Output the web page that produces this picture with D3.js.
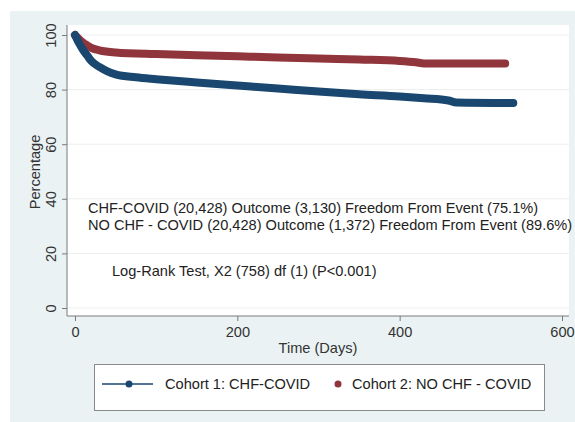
<!DOCTYPE html>
<html>
<head>
<meta charset="utf-8">
<script src="https://cdn.jsdelivr.net/npm/d3@7"></script>
<style>
  body { margin: 0; background: #fff; }
  svg { display: block; font-family: "Liberation Sans", Arial, sans-serif; }
</style>
</head>
<body>
<div id="chart"></div>
<script>
// Kaplan-Meier style curves (days, percent free from event)
const cohort1Days = [0, 5, 10, 15, 20, 30, 40, 50, 75, 100, 150, 200, 250, 300, 350, 400, 430, 460, 470, 540];
const cohort1Pct  = [100, 97, 94.5, 92.5, 90.5, 88.3, 86.7, 85.6, 84.5, 83.8, 82.6, 81.5, 80.4, 79.3, 78.3, 77.5, 76.8, 76.0, 75.3, 75.1];
const cohort2Days = [0, 5, 10, 15, 20, 30, 50, 100, 150, 200, 250, 300, 350, 400, 420, 430, 530];
const cohort2Pct  = [100, 98.5, 97.2, 96.2, 95.3, 94.4, 93.6, 93.0, 92.6, 92.2, 91.8, 91.4, 91.0, 90.5, 90.0, 89.6, 89.6];

const xTicks = [0, 200, 400, 600];
const yTicks = [0, 20, 40, 60, 80, 100];

const annotationLines = [
  "CHF-COVID (20,428) Outcome (3,130) Freedom From Event (75.1%)",
  "NO CHF - COVID (20,428) Outcome (1,372) Freedom From Event (89.6%)"
];
const testLabel = "Log-Rank Test, X2 (758) df (1) (P<0.001)";
const legendLabels = ["Cohort 1: CHF-COVID", "Cohort 2: NO CHF - COVID"];

const navy = "#1a476f", maroon = "#90353b";
const W = 575, H = 422;
const fs = "14.6px";

const svg = d3.select("#chart").append("svg")
  .attr("width", W)
  .attr("height", H);

// graph region background
svg.append("rect")
  .attr("x", 10).attr("y", 11)
  .attr("width", W - 10).attr("height", H - 11)
  .attr("fill", "#eaf2f3");

// plot region
const plot = { left: 67, top: 25, right: 569, bottom: 316 };
svg.append("rect")
  .attr("x", plot.left).attr("y", plot.top)
  .attr("width", plot.right - plot.left).attr("height", plot.bottom - plot.top)
  .attr("fill", "#fff");

const x = d3.scaleLinear().domain([0, 600]).range([75, 562]);
const y = d3.scaleLinear().domain([0, 100]).range([308, 35]);

// grid lines
svg.append("g")
  .selectAll("line")
  .data(yTicks)
  .enter().append("line")
  .attr("x1", plot.left).attr("x2", plot.right)
  .attr("y1", d => y(d)).attr("y2", d => y(d))
  .attr("stroke", "#eceeee")
  .attr("stroke-width", 1);

// y axis
const yAxis = svg.append("g")
  .attr("transform", `translate(${plot.left},0)`)
  .call(d3.axisLeft(y).tickValues(yTicks).tickSize(5).tickPadding(6));
yAxis.select(".domain").attr("d", `M0,${plot.top}V${plot.bottom}`);
yAxis.selectAll("line, path").attr("stroke", "#7a7a7a");
yAxis.selectAll("text")
  .attr("x", 0).attr("dy", 0)
  .attr("transform", "rotate(-90) translate(0,-11)")
  .attr("text-anchor", "middle")
  .style("font-size", fs)
  .attr("fill", "#333");

// x axis
const xAxis = svg.append("g")
  .attr("transform", `translate(0,${plot.bottom})`)
  .call(d3.axisBottom(x).tickValues(xTicks).tickSize(5).tickPadding(6));
xAxis.select(".domain").attr("d", `M${plot.left},0H${plot.right}`);
xAxis.selectAll("line, path").attr("stroke", "#7a7a7a");
xAxis.selectAll("text")
  .style("font-size", fs)
  .attr("fill", "#333");

// axis titles
svg.append("text")
  .attr("x", 318).attr("y", 353)
  .attr("text-anchor", "middle")
  .style("font-size", fs)
  .attr("fill", "#333")
  .text("Time (Days)");

svg.append("text")
  .attr("transform", "translate(40,172) rotate(-90)")
  .attr("text-anchor", "middle")
  .style("font-size", fs)
  .attr("fill", "#333")
  .text("Percentage");

// survival curves
const line = d3.line()
  .x(d => x(d[0]))
  .y(d => y(d[1]))
  .curve(d3.curveMonotoneX);

const series = [
  { color: maroon, pts: cohort2Days.map((d, i) => [d, cohort2Pct[i]]) },
  { color: navy, pts: cohort1Days.map((d, i) => [d, cohort1Pct[i]]) }
];

series.forEach(s => {
  svg.append("path")
    .datum(s.pts)
    .attr("d", line)
    .attr("fill", "none")
    .attr("stroke", s.color)
    .attr("stroke-width", 8)
    .attr("stroke-linecap", "round")
    .attr("stroke-linejoin", "round");
});

// annotations
annotationLines.forEach((t, i) => {
  svg.append("text")
    .attr("x", 88).attr("y", 213 + i * 16.5)
    .style("font-size", fs)
    .attr("fill", "#222")
    .text(t);
});
svg.append("text")
  .attr("x", 112).attr("y", 276)
  .style("font-size", fs)
  .attr("fill", "#222")
  .text(testLabel);

// legend
const lg = svg.append("g");
lg.append("rect")
  .attr("x", 94.5).attr("y", 364.5)
  .attr("width", 450).attr("height", 46)
  .attr("fill", "#fff")
  .attr("stroke", "#8a8a8a");

const ly = 384;
lg.append("line")
  .attr("x1", 102).attr("x2", 153)
  .attr("y1", ly).attr("y2", ly)
  .attr("stroke", navy).attr("stroke-width", 1.5);
lg.append("circle")
  .attr("cx", 129).attr("cy", ly).attr("r", 3.5)
  .attr("fill", navy);
lg.append("text")
  .attr("x", 165).attr("y", ly + 5)
  .style("font-size", fs).attr("fill", "#222")
  .text(legendLabels[0]);

lg.append("circle")
  .attr("cx", 338).attr("cy", ly).attr("r", 3.5)
  .attr("fill", maroon);
lg.append("text")
  .attr("x", 352).attr("y", ly + 5)
  .style("font-size", fs).attr("fill", "#222")
  .text(legendLabels[1]);
</script>
</body>
</html>
